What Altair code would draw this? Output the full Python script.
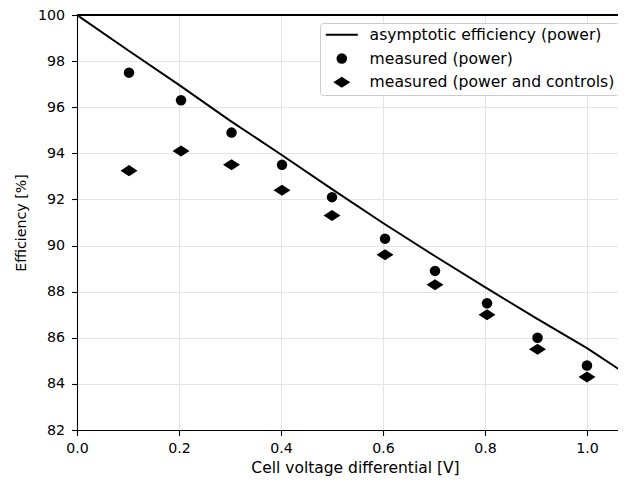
import altair as alt
import pandas as pd

# measured points
x_meas = [0.102, 0.204, 0.303, 0.402, 0.500, 0.604, 0.702, 0.804, 0.903, 1.000]
eff_power = [97.5, 96.3, 94.9, 93.5, 92.1, 90.3, 88.9, 87.5, 86.0, 84.8]
eff_controls = [93.25, 94.1, 93.5, 92.4, 91.3, 89.6, 88.3, 87.0, 85.5, 84.3]

# asymptotic curve
x_line = [0.0, 0.1, 0.2, 0.3, 0.4, 0.5, 0.6, 0.7, 0.8, 0.9, 1.0, 1.0765]
eff_line = [100.0, 98.47, 96.97, 95.42, 93.95, 92.45, 90.98, 89.57, 88.2, 86.85, 85.55, 84.43]

names = ["asymptotic efficiency (power)", "measured (power)", "measured (power and controls)"]
x_ticks = [0.0, 0.2, 0.4, 0.6, 0.8, 1.0]
y_ticks = [82, 84, 86, 88, 90, 92, 94, 96, 98, 100]

line_df = pd.DataFrame({"x": x_line, "y": eff_line, "series": names[0]})
pts_df = pd.concat([
    pd.DataFrame({"x": x_meas, "y": eff_power, "series": names[1]}),
    pd.DataFrame({"x": x_meas, "y": eff_controls, "series": names[2]}),
])

FONT = "DejaVu Sans"

xscale = alt.Scale(domain=[0, 1.0608], nice=False, zero=False)
yscale = alt.Scale(domain=[82, 100], nice=False, zero=False)

xax = alt.Axis(values=x_ticks, format=".1f", title="Cell voltage differential [V]",
               titleX=278, titleAlign="center", titlePadding=5, titleFontSize=15.5,
               labelFlush=False, labelPadding=5.5)
yax = alt.Axis(values=y_ticks, format="d", title="Efficiency [%]", titlePadding=9,
               titleFontSize=14.2, labelFlush=False, labelPadding=7)

X = alt.X("x:Q", scale=xscale, axis=xax)
Y = alt.Y("y:Q", scale=yscale, axis=yax)

line = alt.Chart(line_df).mark_line(color="black", strokeWidth=2, clip=True).encode(x=X, y=Y)

shape_scale = alt.Scale(
    domain=names,
    range=["M-3.05,-0.19H3.05V0.19H-3.05Z", "circle", "M-1.62,0L0,-1.05L1.62,0L0,1.05Z"],
)

points = alt.Chart(pts_df).mark_point(filled=True, color="black", opacity=1, size=110).encode(
    x=X, y=Y,
    shape=alt.Shape("series:N", scale=shape_scale,
                    legend=alt.Legend(title=None, orient="none", legendX=243, legendY=8,
                                      symbolSize=110, symbolFillColor="black",
                                      symbolOffset=10, labelOffset=20,
                                      fillColor="white", strokeColor="#cccccc",
                                      cornerRadius=3, padding=4, rowPadding=5.7,
                                      labelFont=FONT, labelFontSize=15.6, labelColor="black",
                                      labelLimit=400)),
)

top = alt.Chart(pts_df).mark_rule(color="black", strokeWidth=1.1).encode(y=alt.datum(100))

chart = alt.layer(line, points, top).properties(
    width=541, height=415,
    autosize=alt.AutoSizeParams(type="none"),
    padding={"left": 69, "top": 7, "right": 0, "bottom": 51},
).configure_view(strokeWidth=0).configure_axis(
    labelFont=FONT, labelFontSize=14.2, labelColor="black",
    titleFont=FONT, titleColor="black", titleFontWeight="normal",
    domainColor="black", domainWidth=1.1, tickColor="black", tickWidth=1.1, tickSize=5.5,
    gridColor="#e3e3e3", gridWidth=1,
)

chart.save("out.html", embed_options={"renderer": "svg", "actions": False})
